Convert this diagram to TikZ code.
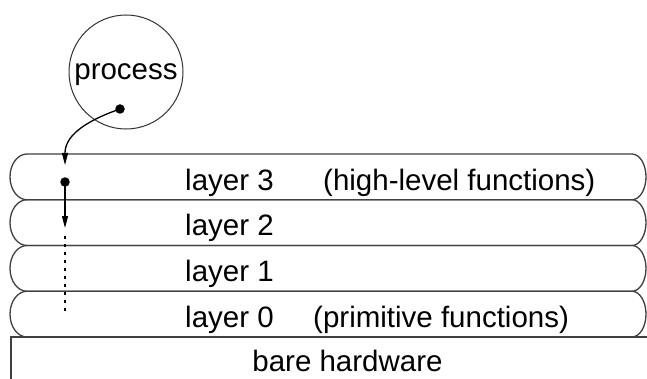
\documentclass[tikz,border=0pt]{standalone}
\usepackage{fontspec}
\setmainfont{Liberation Sans}
\usetikzlibrary{arrows.meta}
\begin{document}
\begin{tikzpicture}[x=1pt,y=1pt,
  outline/.style={draw=black!75,line width=1.3pt},
  lbl/.style={anchor=base west,inner sep=0pt,font=\fontsize{29.5}{34}\selectfont},
  dotnode/.style={circle,fill=black,inner sep=0pt,minimum size=9.5pt},
  arr/.style={line width=1.3pt,-{Triangle[length=12pt,width=6pt]}}]
\useasboundingbox (0,0) rectangle (647,378);
\clip (0,0) rectangle (647,378);
\fill[white] (0,0) rectangle (647,378);
% layers
\foreach \t/\b in {224/178.25,178.25/132.5,132.5/86.75,86.75/41}{
  \draw[outline] (27,\t) arc[start angle=90,end angle=270,x radius=17pt,y radius=22.875pt]
    -- (632,\b) arc[start angle=-90,end angle=90,x radius=14pt,y radius=22.875pt] -- cycle;
}
% hardware
\coordinate (hwa) at (11,-20);
\coordinate (hwb) at (11,41);
\coordinate (hwc) at (660,41);
\draw[outline] (hwa) -- (hwb) -- (hwc);
\node[anchor=base,inner sep=0pt,font=\fontsize{29.5}{34}\selectfont] (hw) at (347.5,7) {bare hardware};
% layer labels
\node[lbl] (l3) at (185,188) {layer 3};
\node[lbl] (l3d) at (323,188) {(high-level functions)};
\node[lbl] (l2) at (185,142.25) {layer 2};
\node[lbl] (l1) at (185,96.5) {layer 1};
\node[lbl] (l0) at (185,50.75) {layer 0};
\node[lbl] (l0d) at (313,50.75) {(primitive functions)};
% process
\node[circle,draw=black!80,line width=1pt,minimum size=114pt,inner sep=0pt,
  text height=15pt,text depth=0pt,font=\fontsize{29.5}{34}\selectfont] (proc) at (126,306) {process};
\node[dotnode] (dot1) at (120,269) {};
\node[dotnode] (dot2) at (65,196) {};
\draw[arr,shorten >=17pt] (dot1.center) .. controls (80,255) and (65,240) .. (dot2.center);
\coordinate (t2) at (65,150);
\draw[arr] (dot2.center) -- (t2);
\coordinate (d1) at (65,142);
\coordinate (d2) at (65,66);
\draw[line width=1.3pt,dash pattern=on 3pt off 5pt] (d1) -- (d2);
\end{tikzpicture}
\end{document}
